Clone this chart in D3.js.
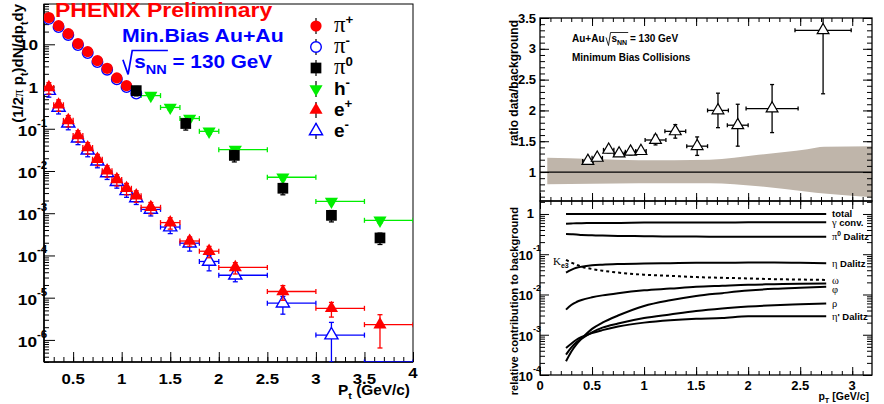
<!DOCTYPE html>
<meta charset="utf-8">
<style>
body{margin:0;background:#fff;}
text{font-family:"Liberation Sans",Arial,sans-serif;font-weight:bold;white-space:pre;}
.gr{font-family:"Liberation Serif","Times New Roman",serif;font-weight:normal;}
</style>
<body>
<script src="https://d3js.org/d3.v7.min.js"></script>
<script>
// ---------- left panel data (spectra) ----------
var piPt = [0.25,0.35,0.45,0.55,0.65,0.75,0.85,0.95,1.05];
var piPlus = [43,27.6,17.9,10.4,6.7,4.1,2.7,1.6,1.05];
var piMinusPt = [0.25,0.35,0.45,0.55,0.65,0.75,0.85,0.95,1.05,1.15];
var piMinus = [40,25.6,16.6,9.6,6.2,3.8,2.5,1.48,0.97,0.68];

var pi0Pt = [1.15,1.66,2.16,2.66,3.16,3.66];
var pi0 = [0.8,0.133,0.0234,0.0039,0.00089,0.00026];
var pi0Err = [0.25,0.3,0.3,0.3,0.3,0.3];

var hPt = [1.3,1.5,1.7,1.9,2.17,2.66,3.16,3.66];
var hLo = [1.2,1.4,1.6,1.8,2.0,2.5,3.0,3.5];
var hHi = [1.4,1.6,1.8,2.0,2.5,3.0,3.5,4.0];
var hMinus = [0.61,0.32,0.175,0.087,0.032,0.0071,0.0019,0.00068];

var ePt = [0.25,0.35,0.45,0.55,0.65,0.75,0.85,0.95,1.05,1.15,1.3,1.5,1.7,1.9,2.17,2.66,3.16,3.66];
var eLo = [0.2,0.3,0.4,0.5,0.6,0.7,0.8,0.9,1.0,1.1,1.2,1.4,1.6,1.8,2.0,2.5,3.0,3.5];
var eHi = [0.3,0.4,0.5,0.6,0.7,0.8,0.9,1.0,1.1,1.2,1.4,1.6,1.8,2.0,2.5,3.0,3.5,4.0];
var ePlus = [0.95,0.37,0.158,0.069,0.036,0.019,0.0102,0.0063,0.0039,0.0026,0.00138,0.0006,0.00022,0.000126,5.2e-5,1.4e-5,5.6e-6,2.3e-6];
var ePlusErr = [0.3,0.3,0.3,0.3,0.3,0.3,0.3,0.3,0.3,0.3,0.3,0.3,0.25,0.3,0.3,0.38,0.38,0.72];
var eMinus = [0.8,0.32,0.135,0.06,0.031,0.017,0.009,0.0056,0.0034,0.0023,0.00123,0.00047,0.000195,7.2e-5,3.4e-5,7.4e-6,1.3e-6,1.5e-7];
var eMinusErr = [0.3,0.3,0.3,0.3,0.3,0.3,0.3,0.3,0.3,0.3,0.3,0.3,0.35,0.4,0.3,0.45,1.0,1.0];

// ---------- right top: ratio data/background ----------
var ratioPt = [0.46,0.55,0.66,0.76,0.87,0.97,1.11,1.30,1.51,1.71,1.90,2.23,2.72];
var ratioXErr = [0.05,0.05,0.05,0.05,0.05,0.05,0.1,0.1,0.1,0.1,0.1,0.25,0.27];
var ratio = [1.18,1.23,1.36,1.30,1.33,1.34,1.52,1.66,1.42,2.00,1.76,2.03,3.30];
var ratioErr = [0.04,0.04,0.05,0.04,0.05,0.05,0.08,0.11,0.15,0.28,0.34,0.39,1.03];
var bandPt = [0.07,0.5,0.95,1.63,2.1,2.57,2.73,3.19];
var bandHi = [1.23,1.21,1.19,1.20,1.28,1.37,1.41,1.42];
var bandLo = [0.80,0.81,0.82,0.82,0.77,0.68,0.65,0.59];

// ---------- right bottom: contributions ----------
var cPt = [0.25,0.3,0.35,0.4,0.5,0.6,0.75,1.0,1.25,1.5,1.75,2.0,2.25,2.5,2.75];
var cTotal = [1,1,1,1,1,1,1,1,1,1,1,1,1,1,1];
var cGamma = [0.57,0.58,0.59,0.59,0.6,0.6,0.6,0.61,0.61,0.61,0.61,0.62,0.62,0.62,0.62];
var cPi0 = [0.32,0.315,0.31,0.30,0.295,0.29,0.285,0.28,0.275,0.275,0.27,0.27,0.27,0.27,0.27];
var cEta = [0.035,0.041,0.046,0.049,0.053,0.055,0.057,0.059,0.06,0.061,0.061,0.062,0.062,0.061,0.06];
var cKe3 = [0.072,0.062,0.055,0.049,0.043,0.039,0.035,0.031,0.029,0.027,0.026,0.025,0.024,0.0235,0.023];
var cOmega = [0.0042,0.0055,0.0065,0.0073,0.0085,0.0095,0.0108,0.0127,0.014,0.0155,0.0165,0.0175,0.018,0.0185,0.0188];
var cPhi = [0.00022,0.00038,0.00058,0.0008,0.0014,0.002,0.003,0.0052,0.0072,0.0092,0.0108,0.0125,0.0138,0.0147,0.0155];
var cRho = [0.00032,0.00048,0.00065,0.0008,0.00115,0.0015,0.0019,0.0026,0.0032,0.0039,0.0045,0.005,0.0054,0.0057,0.006];
var cEtaP = [0.00047,0.0006,0.00075,0.00088,0.0011,0.0013,0.0016,0.002,0.0023,0.0025,0.0026,0.0029,0.0029,0.0029,0.0029];

var svg = d3.select("body").append("svg").attr("width",884).attr("height",404);

// text with sup/sub parts, inside a transformed group
function rich(g, x, y, parts, o) {
  o = o || {};
  var size = o.size || 12;
  var tr = "translate(" + x + "," + y + ")" + (o.rot ? " rotate(" + o.rot + ")" : "") + (o.sx ? " scale(" + o.sx + ",1)" : "");
  var gg = g.append("g").attr("transform", tr);
  var t = gg.append("text").attr("font-size", size).attr("text-anchor", o.anchor || "start").attr("fill", o.fill || "#000");
  var cur = 0;
  parts.forEach(function(p) {
    if (typeof p === "string") p = {t: p};
    var target = p.sup ? -0.42 * size : p.sub ? 0.3 * size : 0;
    var ts = t.append("tspan").text(p.t).attr("dy", target - cur);
    if (p.dx) ts.attr("dx", p.dx);
    cur = target;
    if (p.sup || p.sub) ts.attr("font-size", size * 0.7);
    if (p.gr) ts.attr("class", "gr").attr("font-size", (p.sup || p.sub ? 0.7 : 1) * size * (p.gs || 1));
  });
  return {g: gg, t: t};
}
function radical(r, i0, i1, size, color) {
  var n = r.t.node();
  var a = n.getStartPositionOfChar(i0).x, b = n.getEndPositionOfChar(i1).x;
  r.g.append("path").attr("fill","none").attr("stroke",color).attr("stroke-width", size/12)
    .attr("d", "M" + (a - size*0.55) + "," + (-size*0.45) + "L" + (a - size*0.3) + "," + (size*0.35) +
      "L" + (a - size*0.1) + "," + (-size*0.95) + "H" + (b + 1));
}
function noDomain(a) { a.select(".domain").remove(); }

// ================= LEFT PANEL =================
var xL = d3.scaleLinear().domain([0.2,4]).range([44,413]);
var yL = d3.scaleLog().domain([3e-7,90]).range([362,4]).clamp(true);
var L = svg.append("g");
L.append("clipPath").attr("id","clipL").append("rect").attr("x",44).attr("y",4).attr("width",369).attr("height",358);

L.append("rect").attr("x",44).attr("y",4).attr("width",369).attr("height",358).attr("fill","none").attr("stroke","#000").attr("stroke-width",1);
L.append("line").attr("x1",44).attr("x2",44).attr("y1",4).attr("y2",362).attr("stroke","#000").attr("stroke-width",1.6);
L.append("line").attr("x1",44).attr("x2",413).attr("y1",362).attr("y2",362).attr("stroke","#000").attr("stroke-width",1.6);

var decL = [1e-6,1e-5,1e-4,1e-3,1e-2,1e-1,1,10];
var minL = [];
d3.range(-7,2).forEach(function(e){ for (var k=2;k<10;k++){ var v=k*Math.pow(10,e); if (v>=3e-7 && v<=90) minL.push(v);} });
L.append("g").attr("transform","translate(44,0)").call(d3.axisLeft(yL).tickValues(decL).tickSize(-11).tickFormat("")).call(noDomain);
L.append("g").attr("transform","translate(44,0)").call(d3.axisLeft(yL).tickValues(minL).tickSize(-5).tickFormat("")).call(noDomain);
L.append("g").attr("transform","translate(0,362)").call(d3.axisBottom(xL).tickValues(d3.range(0.5,4.01,0.5)).tickSize(-10).tickFormat("")).call(noDomain);
L.append("g").attr("transform","translate(0,362)").call(d3.axisBottom(xL).tickValues(d3.range(0.2,4.001,0.1)).tickSize(-5).tickFormat("")).call(noDomain);

d3.range(0.5,4.01,0.5).forEach(function(v){
  rich(L, xL(v), v === 4 ? 378 : 384, [String(v)], {size:15, sx:1.12, anchor:"middle"});
});
decL.forEach(function(v){
  var e = Math.round(Math.log10(v));
  if (e === 0) rich(L, 38, yL(v)+6, ["1"], {size:15, sx:1.15, anchor:"end"});
  else if (e === 1) rich(L, 38, yL(v)+6, ["10"], {size:15, sx:1.15, anchor:"end"});
  else {
    rich(L, 37, yL(v)+7, ["10"], {size:15, sx:1.15, anchor:"end"});
    rich(L, 37, yL(v)-2, [String(e)], {size:10.5, sx:1.1});
  }
});
rich(L, 410, 395, ["P", {t:"t",sub:true}, " (GeV/c)"], {size:14, sx:1.1, anchor:"end"});
rich(L, 23, 4, ["(1/2", {t:"\u03c0",gr:true}, " p", {t:"t",sub:true}, ")dN/dp", {t:"t",sub:true}, "dy"], {size:15, rot:-90, anchor:"end"});

var P = L.append("g").attr("clip-path","url(#clipL)");

function errBars(g, xs, ys, pts, color, cap) {
  pts.forEach(function(p){
    var cx = xs(p.x), cy = ys(p.y);
    if (p.xl !== undefined) {
      g.append("line").attr("x1",xs(p.xl)).attr("x2",xs(p.xh)).attr("y1",cy).attr("y2",cy).attr("stroke",color).attr("stroke-width",1.3);
      [p.xl,p.xh].forEach(function(v){ g.append("line").attr("x1",xs(v)).attr("x2",xs(v)).attr("y1",cy-cap).attr("y2",cy+cap).attr("stroke",color).attr("stroke-width",1.3); });
    }
    var y1 = ys(Math.max(p.yl,1e-12)), y2 = ys(p.yh);
    g.append("line").attr("x1",cx).attr("x2",cx).attr("y1",y1).attr("y2",y2).attr("stroke",color).attr("stroke-width",1.3);
    [y1,y2].forEach(function(v){ g.append("line").attr("x1",cx-cap).attr("x2",cx+cap).attr("y1",v).attr("y2",v).attr("stroke",color).attr("stroke-width",1.3); });
  });
}
var inL = function(v){ return v >= 3e-7 && v <= 90; };
var tri = d3.symbol().type(d3.symbolTriangle).size(75);
var sq = d3.symbol().type(d3.symbolSquare).size(115);

// h- (green)
var hPts = hPt.map(function(x,i){ return {x:x, y:hMinus[i], xl:hLo[i], xh:hHi[i], yl:hMinus[i]*0.85, yh:hMinus[i]*1.15}; });
errBars(P, xL, yL, hPts, "#00ee00", 2.5);
P.selectAll("path.hm").data(hPts).enter().append("path").attr("class","hm").attr("d",tri)
  .attr("transform",function(d){ return "translate(" + xL(d.x) + "," + yL(d.y) + ") rotate(180)"; }).attr("fill","#00ee00");

// pi- / pi+
P.selectAll("circle.pm").data(piMinusPt).enter().append("circle").attr("class","pm")
  .attr("cx",function(d){ return xL(d); }).attr("cy",function(d,i){ return yL(piMinus[i]); }).attr("r",5.3)
  .attr("fill","none").attr("stroke","#0000ff").attr("stroke-width",1.4);
P.selectAll("circle.pp").data(piPt).enter().append("circle").attr("class","pp")
  .attr("cx",function(d){ return xL(d); }).attr("cy",function(d,i){ return yL(piPlus[i]); }).attr("r",5.6)
  .attr("fill","#ff0000");

// pi0
var p0Pts = pi0Pt.map(function(x,i){ return {x:x, y:pi0[i], yl:pi0[i]*(1-pi0Err[i]), yh:pi0[i]*(1+pi0Err[i])}; });
errBars(P, xL, yL, p0Pts, "#000", 2.5);
P.selectAll("path.p0").data(p0Pts).enter().append("path").attr("class","p0").attr("d",sq)
  .attr("transform",function(d){ return "translate(" + xL(d.x) + "," + yL(d.y) + ")"; }).attr("fill","#000");

// e- then e+
var emPts = ePt.map(function(x,i){ return {x:x, y:eMinus[i], xl:eLo[i], xh:eHi[i], yl:eMinus[i]*(1-eMinusErr[i]), yh:eMinus[i]*(1+eMinusErr[i])}; });
errBars(P, xL, yL, emPts, "#0000ff", 2.5);
P.selectAll("path.em").data(emPts.filter(function(d){ return inL(d.y); })).enter().append("path").attr("class","em").attr("d",tri)
  .attr("transform",function(d){ return "translate(" + xL(d.x) + "," + yL(d.y) + ")"; }).attr("fill","#fff").attr("stroke","#0000ff").attr("stroke-width",1.4);
var epPts = ePt.map(function(x,i){ return {x:x, y:ePlus[i], xl:eLo[i], xh:eHi[i], yl:ePlus[i]*(1-ePlusErr[i]), yh:ePlus[i]*(1+ePlusErr[i])}; });
errBars(P, xL, yL, epPts, "#ff0000", 2.5);
P.selectAll("path.ep").data(epPts).enter().append("path").attr("class","ep").attr("d",tri)
  .attr("transform",function(d){ return "translate(" + xL(d.x) + "," + yL(d.y) + ")"; }).attr("fill","#ff0000");

// texts
rich(L, 55, 17, ["PHENIX Preliminary"], {size:19.5, sx:1.18, fill:"#ff0000"});
rich(L, 122, 41.5, ["Min.Bias Au+Au"], {size:19, sx:1.12, fill:"#0000ff"});
var sq1 = rich(L, 122, 68, [{t:"s",dx:11}, {t:"NN",sub:true}, " = 130 GeV"], {size:18.5, sx:1.12, fill:"#0000ff"});
radical(sq1, 0, 2, 18.5, "#0000ff");

// legend
var legNames = [
  [{t:"\u03c0",gr:true,gs:1.2}, {t:"+",sup:true}],
  [{t:"\u03c0",gr:true,gs:1.2}, {t:"-",sup:true}],
  [{t:"\u03c0",gr:true,gs:1.2}, {t:"0",sup:true}],
  ["h", {t:"-",sup:true}],
  ["e", {t:"+",sup:true}],
  ["e", {t:"-",sup:true}]
];
var legY = [26,47,68,89,110,131];
legY.forEach(function(y,i){
  L.append("line").attr("x1",316).attr("x2",316).attr("y1",y-8).attr("y2",y+8).attr("stroke","#000").attr("stroke-width",1.2);
  rich(L, 334, y+6, legNames[i], {size:19});
});
L.append("circle").attr("cx",316).attr("cy",legY[0]).attr("r",5.6).attr("fill","#ff0000");
L.append("circle").attr("cx",316).attr("cy",legY[1]).attr("r",5.3).attr("fill","#fff").attr("stroke","#0000ff").attr("stroke-width",1.4);
L.append("path").attr("d",sq).attr("transform","translate(316," + legY[2] + ")").attr("fill","#000");
L.append("path").attr("d",tri).attr("transform","translate(316," + legY[3] + ") rotate(180)").attr("fill","#00ee00");
L.append("path").attr("d",tri).attr("transform","translate(316," + legY[4] + ")").attr("fill","#ff0000");
L.append("path").attr("d",tri).attr("transform","translate(316," + legY[5] + ")").attr("fill","#fff").attr("stroke","#0000ff").attr("stroke-width",1.4);

// ================= RIGHT PANELS =================
var xR = d3.scaleLinear().domain([0,3.19]).range([540,872]);
var yT = d3.scaleLinear().domain([0.53,3.5]).range([201,18]);
var yB = d3.scaleLog().domain([1e-4,2.1]).range([375,201]);
var R = svg.append("g");
R.append("clipPath").attr("id","clipT").append("rect").attr("x",540).attr("y",18).attr("width",332).attr("height",183);

// band and unity line
var band = d3.area().curve(d3.curveMonotoneX)
  .x(function(d,i){ return xR(bandPt[i]); }).y0(function(d,i){ return yT(bandLo[i]); }).y1(function(d,i){ return yT(bandHi[i]); });
R.append("path").attr("d", band(bandPt)).attr("fill","#bfb5aa");
R.append("line").attr("x1",540).attr("x2",872).attr("y1",yT(1)).attr("y2",yT(1)).attr("stroke","#000").attr("stroke-width",1.3);

// ratio points
var T = R.append("g").attr("clip-path","url(#clipT)");
var rPts = ratioPt.map(function(x,i){ return {x:x, y:ratio[i], xl:x-ratioXErr[i], xh:x+ratioXErr[i], yl:ratio[i]-ratioErr[i], yh:ratio[i]+ratioErr[i]}; });
errBars(T, xR, yT, rPts, "#000", 2);
T.selectAll("path.rt").data(rPts).enter().append("path").attr("class","rt").attr("d",d3.symbol().type(d3.symbolTriangle).size(60))
  .attr("transform",function(d){ return "translate(" + xR(d.x) + "," + yT(d.y) + ")"; }).attr("fill","#fff").attr("stroke","#000").attr("stroke-width",1.2);

// frames
R.append("rect").attr("x",540).attr("y",18).attr("width",332).attr("height",183).attr("fill","none").attr("stroke","#000").attr("stroke-width",1.3);
R.append("rect").attr("x",540).attr("y",201).attr("width",332).attr("height",174).attr("fill","none").attr("stroke","#000").attr("stroke-width",1.3);

// axes ticks
var xMaj = d3.range(0,3.19,0.5), xMin = d3.range(0,3.19,0.1);
[[201,"b"],[18,"t"],[201,"t2"],[375,"b2"]].forEach(function(a){
  var ax = (a[1]==="b" || a[1]==="b2") ? d3.axisBottom : d3.axisTop;
  R.append("g").attr("transform","translate(0," + a[0] + ")").call(ax(xR).tickValues(xMaj).tickSize(-8).tickFormat("")).call(noDomain);
  R.append("g").attr("transform","translate(0," + a[0] + ")").call(ax(xR).tickValues(xMin).tickSize(-4).tickFormat("")).call(noDomain);
});
var tMaj = [1,1.5,2,2.5,3,3.5], tMin = d3.range(0.6,3.51,0.1);
R.append("g").attr("transform","translate(540,0)").call(d3.axisLeft(yT).tickValues(tMaj).tickSize(-9).tickFormat("")).call(noDomain);
R.append("g").attr("transform","translate(540,0)").call(d3.axisLeft(yT).tickValues(tMin).tickSize(-5).tickFormat("")).call(noDomain);
R.append("g").attr("transform","translate(872,0)").call(d3.axisRight(yT).tickValues(tMaj).tickSize(-9).tickFormat("")).call(noDomain);
R.append("g").attr("transform","translate(872,0)").call(d3.axisRight(yT).tickValues(tMin).tickSize(-5).tickFormat("")).call(noDomain);
var bMaj = [1e-4,1e-3,1e-2,1e-1,1], bMin = [];
d3.range(-4,1).forEach(function(e){ for (var k=2;k<10;k++){ var v=k*Math.pow(10,e); if (v<=2.1) bMin.push(v);} });
R.append("g").attr("transform","translate(540,0)").call(d3.axisLeft(yB).tickValues(bMaj).tickSize(-9).tickFormat("")).call(noDomain);
R.append("g").attr("transform","translate(540,0)").call(d3.axisLeft(yB).tickValues(bMin).tickSize(-5).tickFormat("")).call(noDomain);
R.append("g").attr("transform","translate(872,0)").call(d3.axisRight(yB).tickValues(bMaj).tickSize(-9).tickFormat("")).call(noDomain);
R.append("g").attr("transform","translate(872,0)").call(d3.axisRight(yB).tickValues(bMin).tickSize(-5).tickFormat("")).call(noDomain);

// tick labels
tMaj.forEach(function(v){ rich(R, 536, yT(v)+4.5, [String(v)], {size:13, anchor:"end"}); });
bMaj.forEach(function(v){
  var e = Math.round(Math.log10(v));
  if (e === 0) rich(R, 534, yB(v)+4.5, ["1"], {size:13, anchor:"end"});
  else {
    rich(R, 533, yB(v)+6, ["10"], {size:13, anchor:"end"});
    rich(R, 533, yB(v)-3, [String(e)], {size:9});
  }
});
d3.range(0,3.01,0.5).forEach(function(v){ rich(R, xR(v), 390, [String(v)], {size:13, anchor:"middle"}); });
rich(R, 869, 400, ["p", {t:"T",sub:true}, " [GeV/c]"], {size:10.5, anchor:"end"});
rich(R, 518, 20, ["ratio data/background"], {size:12, rot:-90, anchor:"end"});
rich(R, 518, 207, ["relative contribution to background"], {size:11.2, rot:-90, anchor:"end"});
var sq2 = rich(R, 572, 42, ["Au+Au", {t:"s",dx:7}, {t:"NN",sub:true}, " = 130 GeV"], {size:10});
radical(sq2, 5, 7, 10, "#000");
rich(R, 572, 61, ["Minimum Bias Collisions"], {size:10});

// contribution curves
var line = d3.line().curve(d3.curveMonotoneX).x(function(d){ return xR(d[0]); }).y(function(d){ return yB(d[1]); });
var curves = [cTotal,cGamma,cPi0,cEta,cOmega,cPhi,cRho,cEtaP];
curves.forEach(function(c){
  R.append("path").attr("d", line(cPt.map(function(x,i){ return [x,c[i]]; }))).attr("fill","none").attr("stroke","#000").attr("stroke-width",2);
});
R.append("path").attr("d", line(cPt.map(function(x,i){ return [x,cKe3[i]]; }))).attr("fill","none").attr("stroke","#000").attr("stroke-width",2).attr("stroke-dasharray","3,3");

var curveLabels = [
  ["total"],
  [{t:"\u03b3",gr:true,gs:1.1}, " conv."],
  [{t:"\u03c0",gr:true,gs:1.1}, {t:"0",sup:true}, " Dalitz"],
  [{t:"\u03b7",gr:true,gs:1.1}, " Dalitz"],
  [{t:"\u03c9",gr:true,gs:1.1}],
  [{t:"\u03c6",gr:true,gs:1.1}],
  [{t:"\u03c1",gr:true,gs:1.1}],
  [{t:"\u03b7",gr:true,gs:1.1}, "' Dalitz"]
];
var labelShift = [-0.5,0.5,0,0,-3,3,0,0];
curves.forEach(function(c,i){
  rich(R, 832, yB(c[c.length-1]) + 3.5 + labelShift[i], curveLabels[i], {size:9.5});
});
rich(R, 553, 265, [{t:"K",gr:true,gs:1.1}, {t:"e3",sub:true}], {size:10});
</script>
</body>
